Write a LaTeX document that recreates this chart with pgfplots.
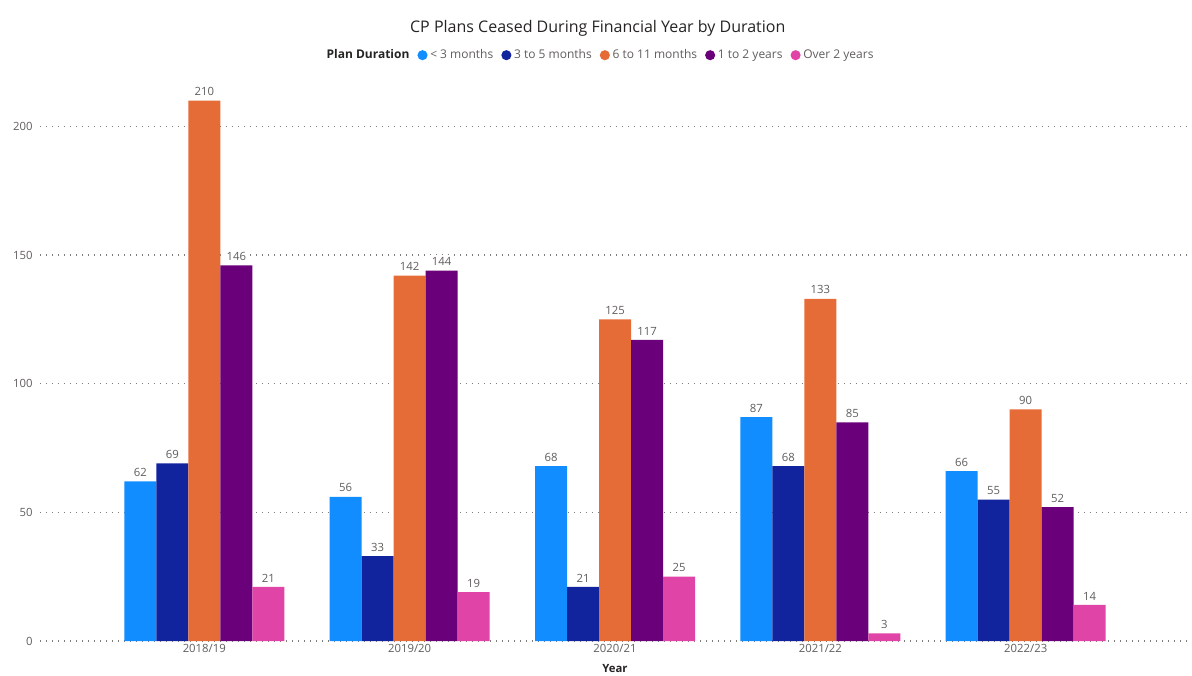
\documentclass[border=0pt]{standalone}
\usepackage{fontspec}
\setmainfont{Open Sans}
\usepackage{pgfplots}
\pgfplotsset{compat=1.18}
\definecolor{cblue}{HTML}{118DFF}
\definecolor{cnavy}{HTML}{12239E}
\definecolor{corange}{HTML}{E66C37}
\definecolor{cpurple}{HTML}{6B007B}
\definecolor{cpink}{HTML}{E044A7}
\definecolor{tgray}{HTML}{605E5C}
\definecolor{tdark}{HTML}{252423}

\begin{document}
\begin{tikzpicture}
\useasboundingbox (-30pt,-25.5pt) rectangle (864pt,480.75pt);
\begin{axis}[
  at={(0,0)},anchor=south west,
  scale only axis,width=862.5pt,height=424.5pt,
  clip=false,
  ybar=0pt,bar width=24pt,
  ymin=0,ymax=220,
  xmin=-0.8,xmax=4.8,
  xtick=data,
  xticklabels={2018/19,2019/20,2020/21,2021/22,2022/23},
  ytick={0,50,100,150,200},
  axis line style={draw=none},
  ymajorgrids,grid style={tgray!80,dash pattern=on 0.9pt off 3.6pt,line width=0.9pt},
  major tick length=0pt,
  /pgf/number format/assume math mode=true,
  tick label style={font=\fontsize{8.5}{10}\selectfont,text=tgray},
  xticklabel style={yshift=1pt},
  yticklabel style={xshift=-2pt},
  xlabel={Year},
  xlabel style={font=\bfseries\fontsize{8.5}{10}\selectfont,text=tdark,yshift=-2pt},
  nodes near coords,
  nodes near coords style={font=\fontsize{8.5}{10}\selectfont,text=tgray,
    fill=white,inner sep=1.5pt,yshift=2pt},
  legend image code/.code={\fill[#1,draw=none] (0.12cm,0cm) circle (3.8pt);},
  legend columns=-1,
  legend style={at={(0.487,1.035)},anchor=center,draw=none,fill=none,
    font=\fontsize{9}{11}\selectfont,text=tgray,
    /tikz/every even column/.append style={column sep=4pt}},
]
\addlegendimage{empty legend}
\addlegendentry{\textcolor{tdark}{\bfseries Plan Duration}}
\addplot[fill=cblue,draw=none] coordinates {(0,62) (1,56) (2,68) (3,87) (4,66)};
\addlegendentry{< 3 months}
\addplot[fill=cnavy,draw=none] coordinates {(0,69) (1,33) (2,21) (3,68) (4,55)};
\addlegendentry{3 to 5 months}
\addplot[fill=corange,draw=none] coordinates {(0,210) (1,142) (2,125) (3,133) (4,90)};
\addlegendentry{6 to 11 months}
\addplot[fill=cpurple,draw=none] coordinates {(0,146) (1,144) (2,117) (3,85) (4,52)};
\addlegendentry{1 to 2 years}
\addplot[fill=cpink,draw=none] coordinates {(0,21) (1,19) (2,25) (3,3) (4,14)};
\addlegendentry{Over 2 years}
\node[font=\fontsize{12}{14}\selectfont,text=tdark] at (axis description cs:0.485,1.083) {CP Plans Ceased During Financial Year by Duration};
\end{axis}
\end{tikzpicture}
\end{document}
